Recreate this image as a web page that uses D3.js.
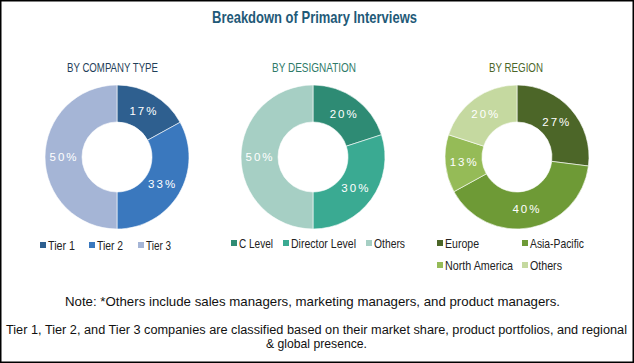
<!DOCTYPE html>
<html>
<head>
<meta charset="utf-8">
<script src="https://cdn.jsdelivr.net/npm/d3@7"></script>
<style>
  body { margin: 0; background: #fff; }
  svg text { font-family: "Liberation Sans", Arial, sans-serif; }
</style>
</head>
<body>
<div id="chart"></div>
<script>
// chart data
const companyLabels = ['Tier 1', 'Tier 2', 'Tier 3'];
const companyValues = [17, 33, 50];
const designationLabels = ['C Level', 'Director Level', 'Others'];
const designationValues = [20, 30, 50];
const regionLabels = ['Europe', 'Asia-Pacific', 'North America', 'Others'];
const regionValues = [27, 40, 13, 20];

const width = 634;
const height = 363;

const svg = d3.select('#chart').append('svg')
  .attr('width', width)
  .attr('height', height);

// outer frame
svg.append('rect')
  .attr('x', 0.75).attr('y', 0.75)
  .attr('width', width - 1.5).attr('height', height - 1.5)
  .attr('fill', '#fff')
  .attr('stroke', '#000')
  .attr('stroke-width', 1.5);

svg.append('text')
  .attr('x', 212)
  .attr('y', 23)
  .attr('font-size', 16.5)
  .attr('font-weight', 'bold')
  .attr('fill', '#1F5A78')
  .attr('textLength', 205)
  .attr('lengthAdjust', 'spacingAndGlyphs')
  .text('Breakdown of Primary Interviews');

const panels = [
  { title: 'BY COMPANY TYPE', tx: 67, tw: 91, titleColor: '#1F3F5A', cx: 117,
    labels: companyLabels, values: companyValues,
    colors: ['#2E5F8F', '#3A78BE', '#A5B5D6'],
    legend: [[40, 245, 27], [89, 245, 26], [138, 245, 25]] },
  { title: 'BY DESIGNATION', tx: 272, tw: 84, titleColor: '#2E7A68', cx: 313,
    labels: designationLabels, values: designationValues,
    colors: ['#2E8B74', '#3AAA92', '#A6CFC4'],
    legend: [[231, 243, 34], [283, 243, 65], [366, 243, 31]] },
  { title: 'BY REGION', tx: 489, tw: 54, titleColor: '#4C6628', cx: 517,
    labels: regionLabels, values: regionValues,
    colors: ['#4C6628', '#6E9A36', '#95BB57', '#C5D9A0'],
    legend: [[437, 243, 34], [522, 243, 54], [437, 265, 68], [522, 265, 32]] }
];

const cy = 157;
const outerR = 72;
const innerR = 35;

const pie = d3.pie().sort(null).value(d => d);
const arc = d3.arc().innerRadius(innerR).outerRadius(outerR);
const labelArc = d3.arc().innerRadius(53).outerRadius(53);

panels.forEach(p => {
  svg.append('text')
    .attr('x', p.tx)
    .attr('y', 72)
    .attr('font-size', 13)
    .attr('fill', p.titleColor)
    .attr('textLength', p.tw)
    .attr('lengthAdjust', 'spacingAndGlyphs')
    .text(p.title);

  const g = svg.append('g').attr('transform', `translate(${p.cx}, ${cy})`);
  const arcs = pie(p.values);

  g.selectAll('path')
    .data(arcs)
    .enter()
    .append('path')
    .attr('d', arc)
    .attr('fill', (d, i) => p.colors[i])
    .attr('stroke', '#fff')
    .attr('stroke-width', 0.6);

  g.selectAll('text.pct')
    .data(arcs)
    .enter()
    .append('text')
    .attr('class', 'pct')
    .attr('transform', d => `translate(${labelArc.centroid(d)})`)
    .attr('text-anchor', 'middle')
    .attr('dy', '0.35em')
    .attr('font-size', 11.5)
    .attr('letter-spacing', 2)
    .attr('fill', '#fff')
    .text(d => d.data + '%');

  // legend
  const lg = svg.append('g');
  p.labels.forEach((name, i) => {
    const [lx, ly, lw] = p.legend[i];
    lg.append('rect')
      .attr('x', lx).attr('y', ly - 3)
      .attr('width', 6).attr('height', 6)
      .attr('fill', p.colors[i]);
    lg.append('text')
      .attr('x', lx + 8)
      .attr('y', ly + 4.5)
      .attr('font-size', 13)
      .attr('fill', '#222')
      .attr('textLength', lw)
      .attr('lengthAdjust', 'spacingAndGlyphs')
      .text(name);
  });
});

const notes = [
  ['Note: *Others include sales managers, marketing managers, and product managers.', 65, 306, 495, 13],
  ['Tier 1, Tier 2, and Tier 3 companies are classified based on their market share, product portfolios, and regional', 6, 334, 621, 12],
  ['& global presence.', 266, 348, 101, 13]
];
svg.selectAll('text.note')
  .data(notes)
  .enter()
  .append('text')
  .attr('class', 'note')
  .attr('x', d => d[1])
  .attr('y', d => d[2])
  .attr('font-size', d => d[4])
  .attr('fill', '#111')
  .attr('textLength', d => d[3])
  .attr('lengthAdjust', 'spacingAndGlyphs')
  .text(d => d[0]);
</script>
</body>
</html>
